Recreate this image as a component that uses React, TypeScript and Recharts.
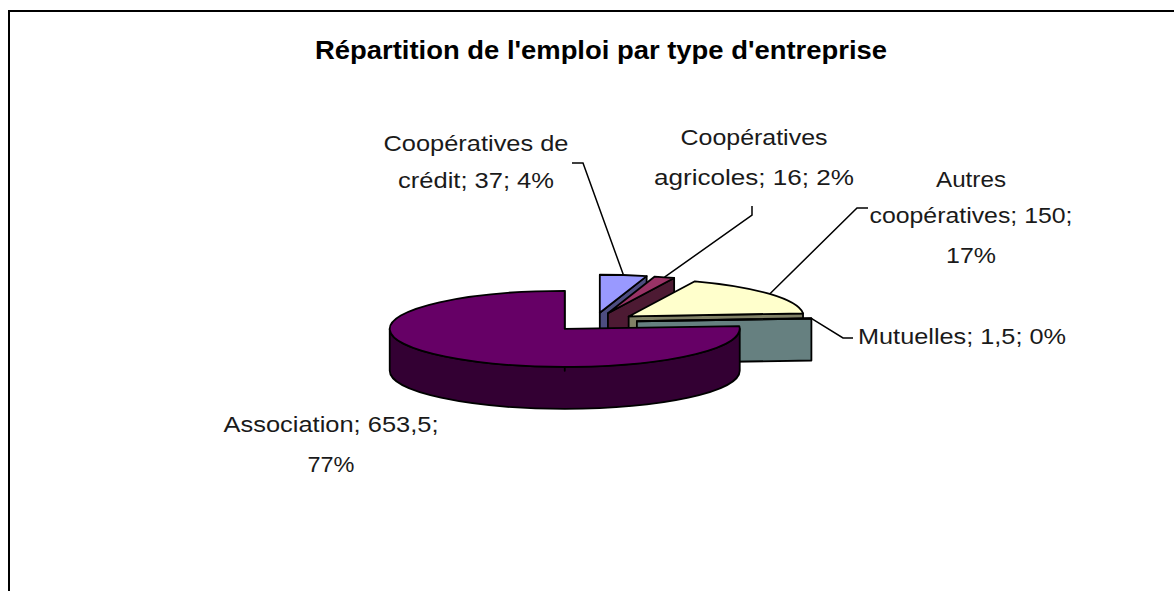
import React from "react";
import { PieChart, Pie, Cell } from "recharts";

// emploi par type d'entreprise
const names = ["Coopératives de crédit", "Coopératives agricoles", "Autres coopératives", "Mutuelles", "Association"];
const values = [37, 16, 150, 1.5, 653.5];
const pctLabels = ["4%", "2%", "17%", "0%", "77%"];

const topColors = ["#9999ff", "#993366", "#ffffcc", "#ccffff", "#660066"];
const sideColors = ["#4d4d80", "#4d1a33", "#808066", "#668080", "#330033"];

// where each label sits, and where its line breaks
const labelLayout = [
  { x: 476, baselines: [151, 188], widths: [185, 156], breaks: [2], elbow: [[572, 163], [583, 163]] },
  { x: 754, baselines: [145, 185], widths: [147, 200], breaks: [1], elbow: [[752, 206], [752, 215]] },
  { x: 971, baselines: [187, 223, 263], widths: [70, 203, 50], breaks: [1, 3], elbow: [[868, 208], [857, 208]] },
  { x: 962, baselines: [344], widths: [208], breaks: [], elbow: [[853, 338], [843, 338]] },
  { x: 331, baselines: [432, 472], widths: [215, 47], breaks: [2], elbow: [] },
];

const data = names.map((name, i) => ({ name, value: values[i] }));

const TILT = 38 / 175;
const DEPTH = 42;
const EXPLODE = 43;
const FONT = "'Liberation Sans', Arial, sans-serif";

const rad = (a: number) => (a * Math.PI) / 180;

function center(props: any) {
  const m = rad(props.midAngle);
  return [props.cx + EXPLODE * Math.cos(m), props.cy - EXPLODE * TILT * Math.sin(m)];
}

function Slice3D(props: any) {
  const { outerRadius, startAngle, endAngle } = props;
  const name = props.payload?.name ?? props.name;
  const i = names.indexOf(name);
  const rx = outerRadius;
  const ry = outerRadius * TILT;
  const [X, Y] = center(props);
  const a1 = Math.max(startAngle, endAngle);
  const a2 = Math.min(startAngle, endAngle);
  const P = (a: number, dy = 0) => [X + rx * Math.cos(rad(a)), Y - ry * Math.sin(rad(a)) + dy];
  const f = (p: number[]) => `${p[0].toFixed(2)},${p[1].toFixed(2)}`;
  const arc = (b1: number, b2: number, sweep: number, dy: number) =>
    `A${rx},${ry} 0 ${Math.abs(b1 - b2) > 180 ? 1 : 0} ${sweep} ${f(sweep ? P(b2, dy) : P(b1, dy))}`;

  const stroke = { stroke: "#000", strokeWidth: 1.8, strokeLinejoin: "round" as const };
  const walls: React.ReactNode[] = [];

  // outer wall, front half only
  for (const k of [-1, 0, 1]) {
    const lo = Math.max(a2, -180 + 360 * k);
    const hi = Math.min(a1, 360 * k);
    if (hi > lo) {
      const d = `M${f(P(hi))} ${arc(hi, lo, 1, 0)} L${f(P(lo, DEPTH))} ${arc(hi, lo, 0, DEPTH)} Z`;
      walls.push(<path key={"o" + k} d={d} fill={sideColors[i]} {...stroke} />);
    }
  }
  // radial cut faces
  const radial = (a: number, key: string) => {
    const d = `M${f([X, Y])} L${f(P(a))} L${f(P(a, DEPTH))} L${f([X, Y + DEPTH])} Z`;
    walls.push(<path key={key} d={d} fill={sideColors[i]} {...stroke} />);
  };
  if (Math.cos(rad(a1)) < -1e-6) radial(a1, "s");
  if (Math.cos(rad(a2)) > 1e-6) radial(a2, "e");

  const top = `M${f([X, Y])} L${f(P(a1))} ${arc(a1, a2, 1, 0)} Z`;
  return (
    <g>
      {walls}
      <path d={top} fill={topColors[i]} {...stroke} />
    </g>
  );
}

function renderLabel(props: any) {
  const i = props.index;
  const lay = labelLayout[i];
  const words = `${names[i]}; ${String(values[i]).replace(".", ",")}; ${pctLabels[i]}`.split(" ");
  const cuts = [0, ...lay.breaks, words.length];
  const lines = lay.baselines.map((_, k) => words.slice(cuts[k], cuts[k + 1]).join(" "));

  const [X, Y] = center(props);
  const m = rad(props.midAngle);
  const rim = [X + props.outerRadius * Math.cos(m), Y - props.outerRadius * TILT * Math.sin(m)];
  const pts = lay.elbow.length ? [...lay.elbow, rim] : [];

  return (
    <g key={"lbl" + i}>
      {pts.length > 0 && (
        <polyline points={pts.map((p) => p.join(",")).join(" ")} fill="none" stroke="#000" strokeWidth={1.5} />
      )}
      {lines.map((t, k) => (
        <text
          key={k}
          x={lay.x}
          y={lay.baselines[k]}
          textAnchor="middle"
          fontFamily={FONT}
          fontSize={22}
          fill="#1a1a1a"
          textLength={lay.widths[k]}
          lengthAdjust="spacingAndGlyphs"
        >
          {t}
        </text>
      ))}
    </g>
  );
}

export default function App() {
  return (
    <div style={{ position: "absolute", left: 0, top: 0, width: 1174, height: 591, overflow: "hidden", background: "#fff" }}>
      <div
        style={{
          position: "absolute",
          left: 8,
          top: 10,
          width: 1300,
          height: 700,
          borderLeft: "2px solid #000",
          borderTop: "2px solid #000",
        }}
      />
      <svg width={1174} height={591} style={{ position: "absolute", left: 0, top: 0 }}>
        <text
          x={601}
          y={59}
          textAnchor="middle"
          fontFamily={FONT}
          fontWeight="bold"
          fontSize={25}
          fill="#000"
          textLength={572}
          lengthAdjust="spacingAndGlyphs"
        >
          Répartition de l'emploi par type d'entreprise
        </text>
      </svg>
      <div style={{ position: "absolute", left: 0, top: 0 }}>
        <PieChart width={1174} height={591} margin={{ top: 0, right: 0, bottom: 0, left: 0 }}>
          <Pie
            data={data}
            dataKey="value"
            nameKey="name"
            cx={594}
            cy={322}
            outerRadius={175}
            startAngle={90}
            endAngle={-270}
            isAnimationActive={false}
            shape={Slice3D}
            label={renderLabel}
            labelLine={false}
            stroke="none"
          >
            {data.map((d, i) => (
              <Cell key={d.name} fill={topColors[i]} />
            ))}
          </Pie>
        </PieChart>
      </div>
    </div>
  );
}
